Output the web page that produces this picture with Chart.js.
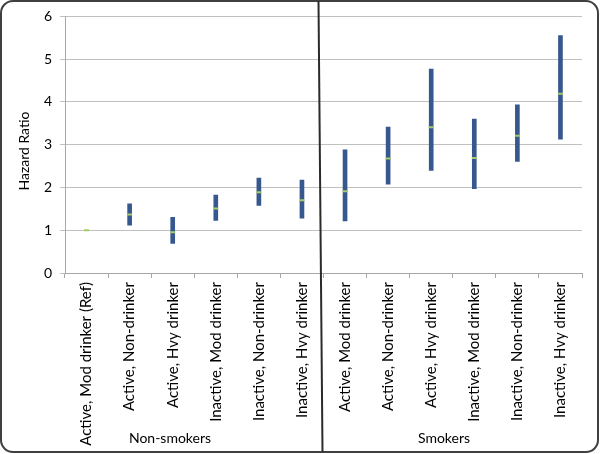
<!DOCTYPE html>
<html>
<head>
<meta charset="utf-8">
<script src="https://cdn.jsdelivr.net/npm/chart.js@4"></script>
<style>
  html, body { margin: 0; padding: 0; background: #fff; }
  #wrap { width: 600px; height: 454px; position: relative; }
</style>
</head>
<body>
<div id="wrap"><canvas id="hrChart" width="600" height="454"></canvas></div>
<script>
// categories and values
const categories = [
    'Active, Mod drinker (Ref)', 'Active, Non-drinker', 'Active, Hvy drinker',
    'Inactive, Mod drinker', 'Inactive, Non-drinker', 'Inactive, Hvy drinker',
    'Active, Mod drinker', 'Active, Non-drinker', 'Active, Hvy drinker',
    'Inactive, Mod drinker', 'Inactive, Non-drinker', 'Inactive, Hvy drinker'
];
const hazardRatio = [1.00, 1.37, 0.95, 1.51, 1.89, 1.70, 1.91, 2.68, 3.41, 2.69, 3.21, 4.19];
const ciLower = [1.00, 1.12, 0.69, 1.23, 1.58, 1.28, 1.22, 2.08, 2.40, 1.97, 2.61, 3.13];
const ciUpper = [1.00, 1.62, 1.30, 1.82, 2.22, 2.17, 2.88, 3.41, 4.77, 3.60, 3.93, 5.55];
const groups = ['Non-smokers', 'Smokers'];
const yTicks = [0, 1, 2, 3, 4, 5, 6];
const yTitle = 'Hazard Ratio';

const fontFamily = 'Lato, "Open Sans", sans-serif';

// frame, divider, axis title and group labels
const decorPlugin = {
    id: 'decor',
    afterDraw(chart) {
        const ctx = chart.ctx;
        ctx.save();
        // outer rounded border
        ctx.strokeStyle = '#3f3f3f';
        ctx.lineWidth = 2;
        ctx.beginPath();
        ctx.roundRect(1, 1, 597, 451, 12);
        ctx.stroke();

        // divider between groups
        ctx.strokeStyle = '#2b2b2b';
        ctx.lineWidth = 2;
        ctx.beginPath();
        ctx.moveTo(318.5, 1);
        ctx.lineTo(322.5, 452);
        ctx.stroke();

        ctx.fillStyle = '#000';
        ctx.textAlign = 'center';
        ctx.textBaseline = 'middle';

        // y axis title
        ctx.save();
        ctx.translate(24, 151);
        ctx.rotate(-Math.PI / 2);
        ctx.font = '14px ' + fontFamily;
        ctx.fillText(yTitle, 0, 0);
        ctx.restore();

        // group labels
        ctx.font = '14px ' + fontFamily;
        ctx.fillText(groups[0], 170, 438);
        ctx.fillText(groups[1], 444, 438);
        ctx.restore();
    }
};

function createHazardChart() {
    const ctx = document.getElementById('hrChart').getContext('2d');
    new Chart(ctx, {
        data: {
            labels: categories,
            datasets: [{
                type: 'line',
                label: 'HR',
                data: hazardRatio,
                showLine: false,
                pointStyle: 'line',
                pointRadius: 2.5,
                borderWidth: 2,
                borderColor: '#a8c96a',
                backgroundColor: '#a8c96a',
                order: 0
            }, {
                type: 'bar',
                label: 'CI',
                data: categories.map((c, i) => [ciLower[i], ciUpper[i]]),
                backgroundColor: '#36588f',
                barThickness: 4,
                order: 1
            }]
        },
        options: {
            responsive: false,
            animation: false,
            layout: { padding: { left: 0, right: 18, top: 10, bottom: 0 } },
            plugins: {
                legend: { display: false },
                tooltip: { enabled: false }
            },
            scales: {
                x: {
                    offset: true,
                    grid: {
                        offset: true,
                        drawOnChartArea: false,
                        drawTicks: true,
                        tickLength: 5,
                        color: '#a6a6a6'
                    },
                    border: { color: '#a6a6a6' },
                    ticks: {
                        minRotation: 90,
                        maxRotation: 90,
                        autoSkip: false,
                        padding: 4,
                        color: '#000',
                        font: { family: fontFamily, size: 15 }
                    },
                    afterFit(scale) { scale.height = 181; }
                },
                y: {
                    min: 0,
                    max: 6,
                    afterBuildTicks(scale) { scale.ticks = yTicks.map(v => ({ value: v })); },
                    grid: {
                        color: '#c0c0c0',
                        tickLength: 5
                    },
                    border: { color: '#a6a6a6' },
                    ticks: {
                        padding: 8,
                        color: '#000',
                        font: { family: fontFamily, size: 14 }
                    },
                    afterFit(scale) { scale.width = 65; }
                }
            }
        },
        plugins: [decorPlugin]
    });
}

window.onload = function() {
    createHazardChart();
};
</script>
</body>
</html>
